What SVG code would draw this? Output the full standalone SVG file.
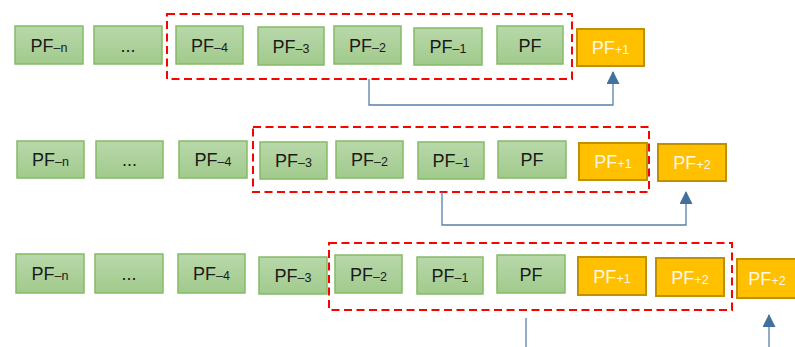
<svg xmlns="http://www.w3.org/2000/svg" width="795" height="347" viewBox="0 0 795 347">
  <defs>
    <linearGradient id="greenFill" x1="0" y1="0" x2="0" y2="1">
      <stop offset="0" stop-color="#b8d8aa"/>
      <stop offset="1" stop-color="#a1ca8c"/>
    </linearGradient>
    <marker id="arrow" viewBox="0 0 13 13" refX="12" refY="6.5" markerWidth="13" markerHeight="13" markerUnits="userSpaceOnUse" orient="auto">
      <path d="M0,0 L13,6.5 L0,13 Z" fill="#41719c"/>
    </marker>
  </defs>
  <style>
    .g rect { fill: url(#greenFill); stroke: #85bb65; stroke-width: 1.5; }
    .o rect { fill: #ffc000; stroke: #bf9000; stroke-width: 2; }
    .g text { fill: #1a1a1a; }
    .o text { fill: #fff8e6; }
    text { font-family: "Liberation Sans", Arial, sans-serif; font-size: 18px; text-anchor: middle; }
    .sub { font-size: 12.5px; }
    .win { fill: none; stroke: #ff0000; stroke-width: 2; stroke-dasharray: 8 4.5; }
    .conn { fill: none; stroke: #5a7fa8; stroke-width: 1.3; }
  </style>

  <!-- sliding windows -->
  <g id="windows">
    <rect class="win" x="167" y="14" width="405" height="65"/>
    <rect class="win" x="253" y="127" width="396" height="65"/>
    <rect class="win" x="329" y="243" width="403" height="67"/>
  </g>

  <!-- row 1 -->
  <g id="r1-pfn" class="g"><rect x="15" y="26" width="68" height="38"/><text x="49" y="52">PF<tspan class="sub">–n</tspan></text></g>
  <g id="r1-dots" class="g"><rect x="94" y="26" width="68" height="38"/><text x="128" y="52">...</text></g>
  <g id="r1-pf4" class="g"><rect x="176" y="26" width="67" height="38"/><text x="209.5" y="52">PF<tspan class="sub">–4</tspan></text></g>
  <g id="r1-pf3" class="g"><rect x="258" y="27" width="66" height="38"/><text x="291" y="53">PF<tspan class="sub">–3</tspan></text></g>
  <g id="r1-pf2" class="g"><rect x="334" y="26" width="67" height="38"/><text x="367.5" y="52">PF<tspan class="sub">–2</tspan></text></g>
  <g id="r1-pf1" class="g"><rect x="414" y="28" width="68" height="37"/><text x="448" y="53">PF<tspan class="sub">–1</tspan></text></g>
  <g id="r1-pf" class="g"><rect x="497" y="26" width="66" height="38"/><text x="530" y="52">PF</text></g>
  <g id="r1-pfp1" class="o"><rect x="577" y="29" width="67" height="37"/><text x="610.5" y="54">PF<tspan class="sub">+1</tspan></text></g>

  <!-- row 2 -->
  <g id="r2-pfn" class="g"><rect x="17" y="141" width="67" height="37"/><text x="50.5" y="166">PF<tspan class="sub">–n</tspan></text></g>
  <g id="r2-dots" class="g"><rect x="96" y="141" width="67" height="37"/><text x="129.5" y="166">...</text></g>
  <g id="r2-pf4" class="g"><rect x="179" y="141" width="68" height="37"/><text x="213" y="166">PF<tspan class="sub">–4</tspan></text></g>
  <g id="r2-pf3" class="g"><rect x="260" y="142" width="67" height="37"/><text x="293.5" y="167">PF<tspan class="sub">–3</tspan></text></g>
  <g id="r2-pf2" class="g"><rect x="336" y="141" width="67" height="37"/><text x="369.5" y="166">PF<tspan class="sub">–2</tspan></text></g>
  <g id="r2-pf1" class="g"><rect x="418" y="142" width="66" height="37"/><text x="451" y="167">PF<tspan class="sub">–1</tspan></text></g>
  <g id="r2-pf" class="g"><rect x="498" y="141" width="68" height="37"/><text x="532" y="166">PF</text></g>
  <g id="r2-pfp1" class="o"><rect x="579" y="143" width="68" height="37"/><text x="613" y="168">PF<tspan class="sub">+1</tspan></text></g>
  <g id="r2-pfp2" class="o"><rect x="658" y="144" width="68" height="37"/><text x="692" y="169">PF<tspan class="sub">+2</tspan></text></g>

  <!-- row 3 -->
  <g id="r3-pfn" class="g"><rect x="16" y="254" width="68" height="39"/><text x="50" y="280">PF<tspan class="sub">–n</tspan></text></g>
  <g id="r3-dots" class="g"><rect x="95" y="254" width="68" height="39"/><text x="129" y="280">...</text></g>
  <g id="r3-pf4" class="g"><rect x="178" y="254" width="67" height="39"/><text x="211.5" y="280">PF<tspan class="sub">–4</tspan></text></g>
  <g id="r3-pf3" class="g"><rect x="259" y="257" width="68" height="37"/><text x="293" y="282">PF<tspan class="sub">–3</tspan></text></g>
  <g id="r3-pf2" class="g"><rect x="335" y="255" width="67" height="38"/><text x="368.5" y="281">PF<tspan class="sub">–2</tspan></text></g>
  <g id="r3-pf1" class="g"><rect x="417" y="257" width="66" height="37"/><text x="450" y="282">PF<tspan class="sub">–1</tspan></text></g>
  <g id="r3-pf" class="g"><rect x="497" y="255" width="68" height="38"/><text x="531" y="281">PF</text></g>
  <g id="r3-pfp1" class="o"><rect x="578" y="257" width="68" height="38"/><text x="612" y="283">PF<tspan class="sub">+1</tspan></text></g>
  <g id="r3-pfp2" class="o"><rect x="656" y="258" width="68" height="38"/><text x="690" y="284">PF<tspan class="sub">+2</tspan></text></g>
  <g id="r3-pfp2b" class="o"><rect x="737" y="259" width="60" height="39"/><text x="767" y="285">PF<tspan class="sub">+2</tspan></text></g>

  <!-- connectors -->
  <g id="connectors">
    <path class="conn" d="M369,79 V105 H613 V72" marker-end="url(#arrow)"/>
    <path class="conn" d="M442,192 V225 H686 V192" marker-end="url(#arrow)"/>
    <path class="conn" d="M526,318 V347"/>
    <path class="conn" d="M769,347 V315" marker-end="url(#arrow)"/>
  </g>
</svg>
